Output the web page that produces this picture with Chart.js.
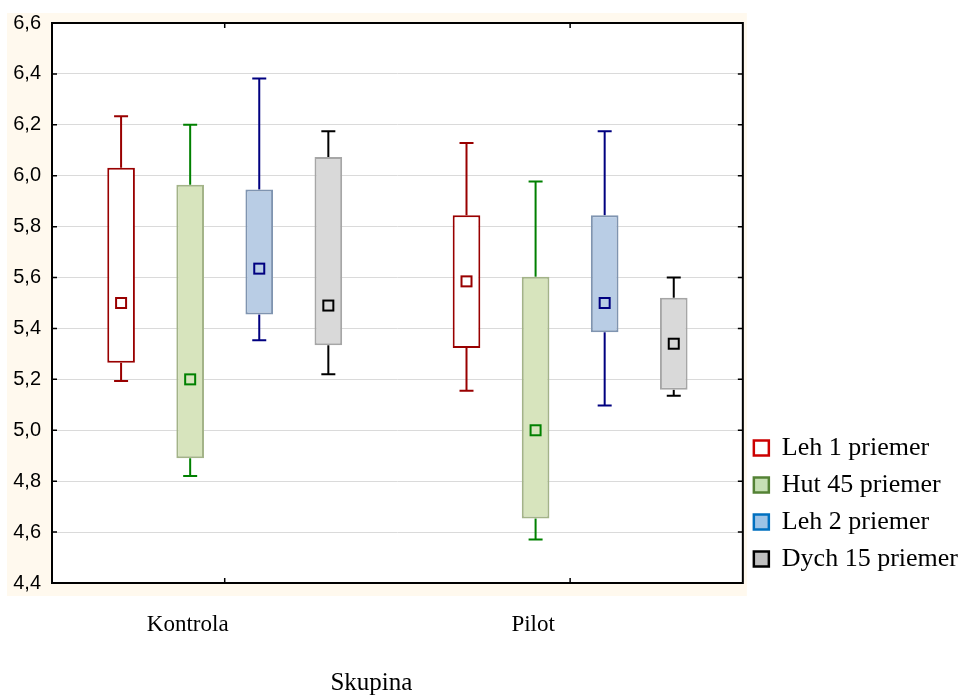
<!DOCTYPE html>
<html>
<head>
<meta charset="utf-8">
<script src="https://cdn.jsdelivr.net/npm/chart.js@4.4.0/dist/chart.umd.min.js"></script>
<style>
  html, body { margin: 0; padding: 0; background: #ffffff; }
  #wrap { width: 976px; height: 695px; }
</style>
</head>
<body>
<div id="wrap"><canvas id="boxChart" width="976" height="695"></canvas></div>
<script>
// --- Data ---
const groups = ["Kontrola", "Pilot"];
const seriesNames = ["Leh 1 priemer", "Hut 45 priemer", "Leh 2 priemer", "Dych 15 priemer"];

// per series: [Kontrola, Pilot]
const boxLow   = [[5.265, 5.323], [4.89, 4.653], [5.455, 5.385], [5.334, 5.159]];
const boxHigh  = [[6.031, 5.845], [5.965, 5.603], [5.946, 5.845], [6.074, 5.521]];
const whiskLow = [[5.194, 5.155], [4.82, 4.571], [5.354, 5.097], [5.22, 5.136]];
const whiskHigh= [[6.234, 6.129], [6.20, 5.977], [6.382, 6.175], [6.175, 5.60]];
const means    = [[5.50, 5.585], [5.20, 5.00], [5.635, 5.50], [5.49, 5.34]];

const yTicks = [4.4, 4.6, 4.8, 5.0, 5.2, 5.4, 5.6, 5.8, 6.0, 6.2, 6.4, 6.6];

// --- Styles ---
const boxFill   = ["#ffffff", "#d7e4bd", "#b9cde5", "#d9d9d9"];
const boxBorder = ["#990000", "#a3b388", "#7f94b0", "#a6a6a6"];
const lineColor = ["#990000", "#008000", "#000080", "#000000"];
const legendFill   = ["#ffffff", "#c6e0b4", "#9dc3e6", "#c0c0c0"];
const legendBorder = ["#cc0000", "#548235", "#0070c0", "#000000"];

const datasets = seriesNames.map((name, i) => ({
    label: name,
    data: groups.map((g, j) => [boxLow[i][j], boxHigh[i][j]]),
    backgroundColor: boxFill[i],
    borderColor: boxBorder[i],
    borderWidth: 2,
    borderSkipped: false,
    categoryPercentage: 0.8,
    barPercentage: 0.4
}));

// whiskers + mean squares, drawn with the bar positions and the y scale
const boxExtras = {
    id: "boxExtras",
    beforeDatasetsDraw(chart) {
        const ctx = chart.ctx;
        const y = chart.scales.y;
        ctx.save();
        chart.data.datasets.forEach((ds, i) => {
            chart.getDatasetMeta(i).data.forEach((bar, j) => {
                const x = bar.x;
                ctx.strokeStyle = lineColor[i];
                ctx.lineWidth = 2;
                ctx.beginPath();
                ctx.moveTo(x, y.getPixelForValue(whiskHigh[i][j]));
                ctx.lineTo(x, y.getPixelForValue(boxHigh[i][j]));
                ctx.moveTo(x, y.getPixelForValue(boxLow[i][j]));
                ctx.lineTo(x, y.getPixelForValue(whiskLow[i][j]));
                ctx.moveTo(x - 7, y.getPixelForValue(whiskHigh[i][j]));
                ctx.lineTo(x + 7, y.getPixelForValue(whiskHigh[i][j]));
                ctx.moveTo(x - 7, y.getPixelForValue(whiskLow[i][j]));
                ctx.lineTo(x + 7, y.getPixelForValue(whiskLow[i][j]));
                ctx.stroke();
            });
        });
        ctx.restore();
    },
    afterDatasetsDraw(chart) {
        const ctx = chart.ctx;
        const y = chart.scales.y;
        ctx.save();
        chart.data.datasets.forEach((ds, i) => {
            chart.getDatasetMeta(i).data.forEach((bar, j) => {
                const py = y.getPixelForValue(means[i][j]);
                ctx.strokeStyle = lineColor[i];
                ctx.lineWidth = 2;
                ctx.strokeRect(bar.x - 5, py - 5, 10, 10);
            });
        });
        ctx.restore();
    }
};

// cream background, frame, inward ticks, axis title
const frame = {
    id: "frame",
    beforeDraw(chart) {
        const a = chart.chartArea;
        const ctx = chart.ctx;
        ctx.save();
        ctx.fillStyle = "#fff9ee";
        ctx.fillRect(a.left - 45, a.top - 10, a.right - a.left + 49, a.bottom - a.top + 23);
        ctx.fillStyle = "#ffffff";
        ctx.fillRect(a.left, a.top, a.right - a.left, a.bottom - a.top);
        ctx.restore();
    },
    afterDraw(chart) {
        const a = chart.chartArea;
        const ctx = chart.ctx;
        const y = chart.scales.y;
        const x = chart.scales.x;
        ctx.save();
        ctx.strokeStyle = "#000000";
        ctx.lineWidth = 1.5;
        ctx.beginPath();
        yTicks.forEach(v => {
            const py = y.getPixelForValue(v);
            ctx.moveTo(a.left, py); ctx.lineTo(a.left + 5, py);
            ctx.moveTo(a.right, py); ctx.lineTo(a.right - 5, py);
        });
        groups.forEach((g, j) => {
            const px = x.getPixelForValue(j);
            ctx.moveTo(px, a.top); ctx.lineTo(px, a.top + 5);
            ctx.moveTo(px, a.bottom); ctx.lineTo(px, a.bottom - 5);
        });
        ctx.stroke();
        ctx.lineWidth = 2;
        ctx.strokeRect(a.left, a.top, a.right - a.left, a.bottom - a.top);

        ctx.fillStyle = "#000000";
        ctx.font = "25px 'Liberation Serif'";
        ctx.textAlign = "center";
        ctx.textBaseline = "middle";
        ctx.fillText("Skupina", (a.left + a.right) / 2 - 26, 683);
        ctx.restore();
    }
};

new Chart(document.getElementById("boxChart"), {
    type: "bar",
    data: { labels: groups, datasets: datasets },
    options: {
        responsive: false,
        animation: false,
        layout: { padding: { left: 7, top: 18, right: 8, bottom: 0 } },
        plugins: {
            tooltip: { enabled: false },
            legend: {
                position: "right",
                align: "end",
                fullSize: false,
                labels: {
                    boxWidth: 15,
                    boxHeight: 15,
                    padding: 11,
                    color: "#000000",
                    font: { family: "'Liberation Serif'", size: 26 },
                    generateLabels: () => seriesNames.map((n, i) => ({
                        text: n,
                        fillStyle: legendFill[i],
                        strokeStyle: legendBorder[i],
                        lineWidth: 2.5,
                        datasetIndex: i
                    }))
                }
            }
        },
        scales: {
            x: {
                grid: { display: false, drawTicks: false },
                border: { display: false },
                ticks: {
                    color: "#000000",
                    font: { family: "'Liberation Serif'", size: 23 },
                    padding: 28,
                    labelOffset: -37
                },
                afterFit: s => { s.height = 112; }
            },
            y: {
                min: 4.4,
                max: 6.6,
                grid: { color: "#dadada", lineWidth: 1, drawTicks: false },
                border: { display: false },
                ticks: {
                    stepSize: 0.2,
                    color: "#000000",
                    padding: 11,
                    font: { family: "'Liberation Sans'", size: 20 },
                    callback: v => Number(v).toFixed(1).replace(".", ",")
                },
                afterFit: s => { s.width = 45; }
            }
        }
    },
    plugins: [frame, boxExtras]
});
</script>
</body>
</html>
